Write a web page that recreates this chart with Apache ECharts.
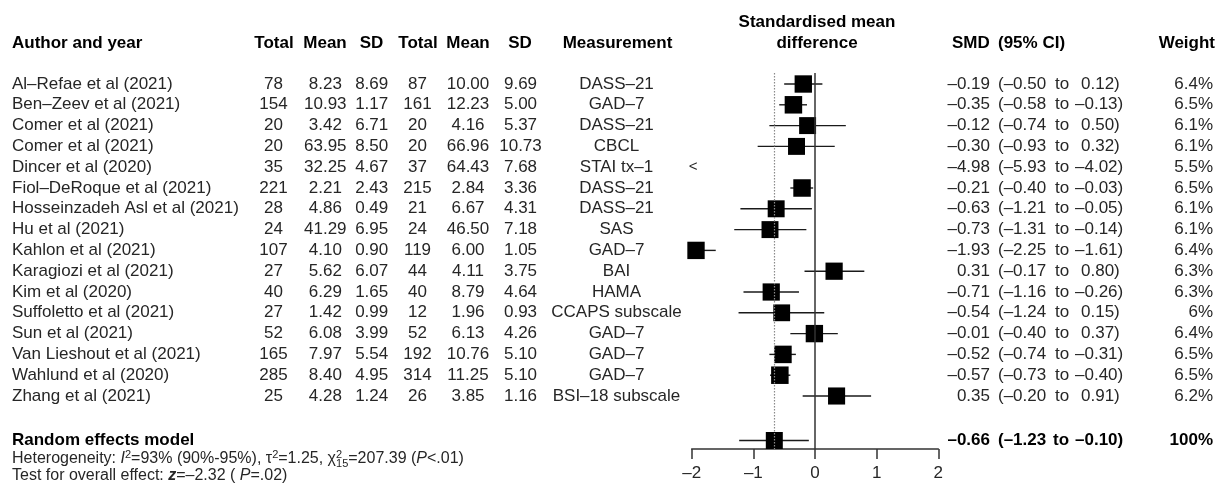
<!DOCTYPE html>
<html><head><meta charset="utf-8">
<script src="https://cdn.jsdelivr.net/npm/echarts@6/dist/echarts.min.js"></script>
<style>html,body{margin:0;padding:0;background:#fff}#c{width:1217px;height:489px}</style>
</head><body><div id="c"></div>
<script>
// ---------------- data ----------------
const authors = ["Al–Refae et al (2021)", "Ben–Zeev et al (2021)", "Comer et al (2021)", "Comer et al (2021)",
  "Dincer et al (2020)", "Fiol–DeRoque et al (2021)", "Hosseinzadeh Asl et al (2021)", "Hu et al (2021)",
  "Kahlon et al (2021)", "Karagiozi et al (2021)", "Kim et al (2020)", "Suffoletto et al (2021)",
  "Sun et al (2021)", "Van Lieshout et al (2021)", "Wahlund et al (2020)", "Zhang et al (2021)"];
const totalE = [78, 154, 20, 20, 35, 221, 28, 24, 107, 27, 40, 27, 52, 165, 285, 25];
const meanE = ["8.23", "10.93", "3.42", "63.95", "32.25", "2.21", "4.86", "41.29", "4.10", "5.62", "6.29", "1.42", "6.08", "7.97", "8.40", "4.28"];
const sdE = ["8.69", "1.17", "6.71", "8.50", "4.67", "2.43", "0.49", "6.95", "0.90", "6.07", "1.65", "0.99", "3.99", "5.54", "4.95", "1.24"];
const totalC = [87, 161, 20, 20, 37, 215, 21, 24, 119, 44, 40, 12, 52, 192, 314, 26];
const meanC = ["10.00", "12.23", "4.16", "66.96", "64.43", "2.84", "6.67", "46.50", "6.00", "4.11", "8.79", "1.96", "6.13", "10.76", "11.25", "3.85"];
const sdC = ["9.69", "5.00", "5.37", "10.73", "7.68", "3.36", "4.31", "7.18", "1.05", "3.75", "4.64", "0.93", "4.26", "5.10", "5.10", "1.16"];
const measurement = ["DASS–21", "GAD–7", "DASS–21", "CBCL", "STAI tx–1", "DASS–21", "DASS–21", "SAS",
  "GAD–7", "BAI", "HAMA", "CCAPS subscale", "GAD–7", "GAD–7", "GAD–7", "BSI–18 subscale"];
const smd = [-0.19, -0.35, -0.12, -0.30, -4.98, -0.21, -0.63, -0.73, -1.93, 0.31, -0.71, -0.54, -0.01, -0.52, -0.57, 0.35];
const ciLow = [-0.50, -0.58, -0.74, -0.93, -5.93, -0.40, -1.21, -1.31, -2.25, -0.17, -1.16, -1.24, -0.40, -0.74, -0.73, -0.20];
const ciHigh = [0.12, -0.13, 0.50, 0.32, -4.02, -0.03, -0.05, -0.14, -1.61, 0.80, -0.26, 0.15, 0.37, -0.31, -0.40, 0.91];
const weight = [6.4, 6.5, 6.1, 6.1, 5.5, 6.5, 6.1, 6.1, 6.4, 6.3, 6.3, 6, 6.4, 6.5, 6.5, 6.2];
const summaryLabel = "Random effects model";
const summarySmd = -0.66, summaryLow = -1.23, summaryHigh = -0.10, summaryWeight = 100;
const xTicks = [-2, -1, 0, 1, 2];

// ---------------- layout ----------------
const W = 1217, H = 489;
const FONT = '"Liberation Sans", Arial, Helvetica, sans-serif';
const TXT = '#262626';
const ROW_Y0 = 84, ROW_H = 20.8;
const PLOT_TOP = 73, AXIS_Y = 449;
const PX_LEFT = 691.7, PX_RIGHT = 938.3;
const SUM_ROW = (440.5 - ROW_Y0) / ROW_H;
const X_MIN = xTicks[0], X_MAX = xTicks[xTicks.length - 1];
const nStudies = authors.length;

const fmt = v => (v < 0 ? '–' : '') + Math.abs(v).toFixed(2);
const fmtW = v => v + '%';

const chart = echarts.init(document.getElementById('c'), null, { renderer: 'canvas', width: W, height: H });

function txt(text, x, y, align, bold, size) {
  return { type: 'text', style: { text: text, x: x, y: y, textAlign: align, textVerticalAlign: 'middle',
    font: (bold ? 'bold ' : '') + (size || 17) + 'px ' + FONT, fill: bold ? '#000' : TXT } };
}

function ciCells(s, l, h, y, bold) {
  return [
    txt(fmt(s), 990, y, 'right', bold),
    txt('(' + fmt(l), 998, y, 'left', bold),
    txt('to', bold ? 1053 : 1055, y, 'left', bold),
    txt(fmt(h) + ')', h < 0 ? 1075 : 1081, y, 'left', bold)
  ];
}

function tableItem(params, api) {
  const i = params.dataIndex;
  const isSum = i === nStudies;
  const y = api.coord([0, isSum ? SUM_ROW : i])[1];
  if (isSum) {
    return { type: 'group', children: [
      txt(summaryLabel, 12, y, 'left', true)
    ].concat(ciCells(summarySmd, summaryLow, summaryHigh, y, true), [
      txt(fmtW(summaryWeight), 1213, y, 'right', true)
    ]) };
  }
  return { type: 'group', children: [
    txt(authors[i], 12, y, 'left'),
    txt(String(totalE[i]), 273.5, y, 'center'),
    txt(meanE[i], 325.3, y, 'center'),
    txt(sdE[i], 371.7, y, 'center'),
    txt(String(totalC[i]), 417.5, y, 'center'),
    txt(meanC[i], 468, y, 'center'),
    txt(sdC[i], 520.5, y, 'center'),
    txt(measurement[i], 616.5, y, 'center')
  ].concat(ciCells(smd[i], ciLow[i], ciHigh[i], y, false), [
    txt(fmtW(weight[i]), 1213, y, 'right')
  ]) };
}

function ciItem(params, api) {
  const r = api.value(1), l = api.value(2), h = api.value(3);
  if (h < X_MIN) {
    const p = api.coord([X_MIN, r]);
    return txt('<', p[0] + 1.5, p[1], 'center', false, 15);
  }
  if (l > X_MAX) {
    const p = api.coord([X_MAX, r]);
    return txt('>', p[0] - 1.5, p[1], 'center', false, 15);
  }
  const a = api.coord([Math.max(l, X_MIN), r]);
  const b = api.coord([Math.min(h, X_MAX), r]);
  return { type: 'line', shape: { x1: a[0], y1: a[1], x2: b[0], y2: b[1] },
    style: { stroke: '#1a1a1a', lineWidth: 1.4 } };
}

const ciData = smd.map((v, i) => [v, i, ciLow[i], ciHigh[i]]);
ciData.push([summarySmd, SUM_ROW, summaryLow, summaryHigh]);

const sqData = smd.map((v, i) => [v, i, weight[i]]).filter(d => d[0] >= X_MIN && d[0] <= X_MAX);

const tableData = authors.map((a, i) => [0, i]);
tableData.push([0, SUM_ROW]);

const option = {
  animation: false,
  backgroundColor: '#fff',
  grid: { left: PX_LEFT, width: PX_RIGHT - PX_LEFT, top: PLOT_TOP, height: AXIS_Y - PLOT_TOP, containLabel: false },
  xAxis: {
    type: 'value', min: X_MIN, max: X_MAX, interval: 1,
    axisLine: { show: true, onZero: false, lineStyle: { color: '#333', width: 1.5 } },
    axisTick: { show: true, inside: false, length: 10, lineStyle: { color: '#333', width: 1.5 } },
    axisLabel: { show: true, margin: 16, color: '#262626', fontSize: 17, fontFamily: FONT,
      formatter: v => (v < 0 ? '–' + Math.abs(v) : String(v)) },
    splitLine: { show: false }
  },
  yAxis: {
    type: 'value', inverse: true, show: false,
    min: (PLOT_TOP - ROW_Y0) / ROW_H, max: (AXIS_Y - ROW_Y0) / ROW_H,
    splitLine: { show: false }
  },
  graphic: [
    txt('Author and year', 12, 43, 'left', true),
    txt('Total', 274, 43, 'center', true),
    txt('Mean', 325, 43, 'center', true),
    txt('SD', 371.5, 43, 'center', true),
    txt('Total', 418, 43, 'center', true),
    txt('Mean', 468, 43, 'center', true),
    txt('SD', 520, 43, 'center', true),
    txt('Measurement', 617.5, 43, 'center', true),
    txt('Standardised mean', 817, 22, 'center', true),
    txt('difference', 817, 43, 'center', true),
    txt('SMD', 952, 43, 'left', true),
    txt('(95% CI)', 998, 43, 'left', true),
    txt('Weight', 1215, 43, 'right', true),
    {
      type: 'text', x: 12, y: 459,
      style: {
        text: '{n|Heterogeneity: }{i|I}{sup|2}{n|=93% (90%-95%), τ}{sup|2}{n|=1.25, χ}{supz|2}{sub|15}{n|=207.39 (}{i|P}{n|<.01)}',
        textVerticalAlign: 'middle', textAlign: 'left',
        rich: {
          n: { fill: TXT, fontSize: 16, fontFamily: FONT, lineHeight: 20 },
          i: { fill: TXT, fontSize: 16, fontFamily: FONT, fontStyle: 'italic', lineHeight: 20 },
          sup: { fill: TXT, fontSize: 11, fontFamily: FONT, verticalAlign: 'top', lineHeight: 12 },
          supz: { fill: TXT, fontSize: 11, fontFamily: FONT, verticalAlign: 'top', lineHeight: 12, width: 0.01 },
          sub: { fill: TXT, fontSize: 11, fontFamily: FONT, verticalAlign: 'bottom', lineHeight: 12 }
        }
      }
    },
    {
      type: 'text', x: 12, y: 476,
      style: {
        text: '{n|Test for overall effect: }{bi|z}{n|=–2.32 ( }{i|P}{n|=.02)}',
        textVerticalAlign: 'middle', textAlign: 'left',
        rich: {
          n: { fill: TXT, fontSize: 16, fontFamily: FONT, lineHeight: 20 },
          i: { fill: TXT, fontSize: 16, fontFamily: FONT, fontStyle: 'italic', lineHeight: 20 },
          bi: { fill: TXT, fontSize: 16, fontFamily: FONT, fontStyle: 'italic', fontWeight: 'bold', lineHeight: 20 }
        }
      }
    }
  ],
  series: [
    {
      type: 'custom', name: 'ci', renderItem: ciItem, data: ciData, clip: false,
      encode: { x: 0, y: 1 }, z: 3,
      markLine: {
        silent: true, symbol: 'none', label: { show: false }, animation: false,
        data: [
          { xAxis: 0, lineStyle: { color: '#333', width: 1.5, type: 'solid' } },
          { xAxis: summarySmd, lineStyle: { color: '#8a8a8a', width: 1.2, type: [1.5, 1.5] } }
        ]
      }
    },
    {
      type: 'scatter', name: 'studies', data: sqData, symbol: 'rect', clip: false, z: 4,
      symbolSize: v => 17.5 * Math.sqrt(v[2] / 6.5),
      itemStyle: { color: '#000', opacity: 1 }
    },
    {
      type: 'scatter', name: 'summary', data: [[summarySmd, SUM_ROW]], symbol: 'rect', clip: false, z: 4,
      symbolSize: 17, itemStyle: { color: '#000', opacity: 1 }
    },
    {
      type: 'custom', name: 'table', renderItem: tableItem, data: tableData, clip: false,
      encode: { x: 0, y: 1 }, z: 5
    }
  ]
};
chart.setOption(option);
</script></body></html>
